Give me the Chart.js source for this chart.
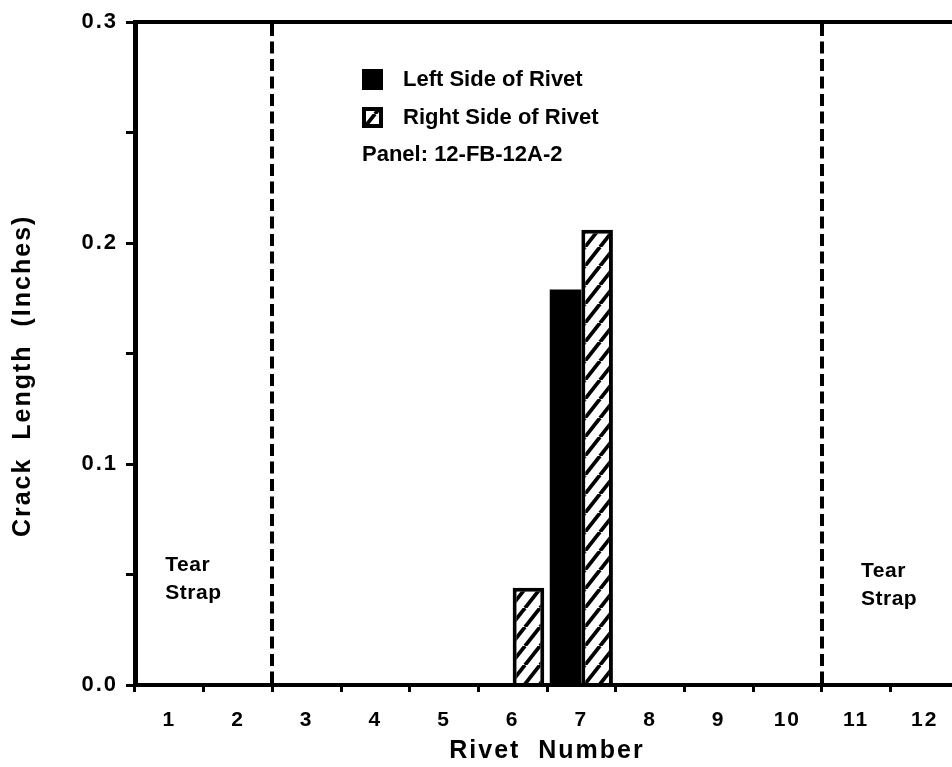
<!DOCTYPE html>
<html><head><meta charset="utf-8">
<script src="https://cdn.jsdelivr.net/npm/chart.js@4.4.1/dist/chart.umd.min.js"></script>
<style>
html,body{margin:0;padding:0;background:#fff;overflow:hidden;width:952px;height:767px;}
#wrap{position:absolute;left:0;top:0;width:968px;height:767px;}
canvas{display:block;}
</style></head><body>
<div id="wrap"><canvas id="c" width="968" height="767" style="width:968px;height:767px"></canvas></div>
<script>
// ---- data ----
const rivetNumbers = ['1','2','3','4','5','6','7','8','9','10','11','12'];
const leftSideOfRivet  = [0,0,0,0,0,0,0.179,0,0,0,0,0];
const rightSideOfRivet = [0,0,0,0,0,0.044,0.206,0,0,0,0,0];
const yTickLabels = ['0.0','0.1','0.2','0.3'];
const seriesLabels = ['Left Side of Rivet','Right Side of Rivet'];
const panelLabel = 'Panel: 12-FB-12A-2';
const tearStrapAfterRivet = ['2','10'];   // dashed tear-strap lines sit after these rivets
const tearStrapText = ['Tear','Strap'];
const xTitle = 'Rivet  Number';
const yTitle = 'Crack  Length  (Inches)';

const FONT = 'Liberation Sans, Arial, Helvetica, sans-serif';
const canvas = document.getElementById('c');
const mainCtx = canvas.getContext('2d');

function makeHatch(){
  const w = 15, h = 19;
  const t = document.createElement('canvas'); t.width = w; t.height = h;
  const g = t.getContext('2d');
  g.fillStyle = '#fff'; g.fillRect(0,0,w,h);
  g.strokeStyle = '#000'; g.lineWidth = 3.8;
  for (const dx of [-w, 0, w]) { g.beginPath(); g.moveTo(dx, h); g.lineTo(dx + w, 0); g.stroke(); }
  return mainCtx.createPattern(t, 'repeat');
}
const hatch = makeHatch();

const spacingPlugin = {
  id: 'spacing',
  beforeDraw(chart){ chart.ctx.letterSpacing = '2px'; },
  beforeDatasetsDraw(chart){ chart.ctx.letterSpacing = '0px'; }
};

const overlayPlugin = {
  id: 'overlay',
  afterDatasetsDraw(chart){
    const {ctx, chartArea: a, scales: {x, y}} = chart;
    ctx.save();
    ctx.letterSpacing = '0px';
    // top frame line
    ctx.strokeStyle = '#000'; ctx.lineWidth = 4;
    ctx.beginPath(); ctx.moveTo(a.left - 2, y.getPixelForValue(0.3)); ctx.lineTo(a.right, y.getPixelForValue(0.3)); ctx.stroke();
    // tear strap dashed lines
    ctx.lineWidth = 4; ctx.setLineDash([12, 5.5]);
    tearStrapAfterRivet.forEach(r => {
      const i = rivetNumbers.indexOf(r);
      const px = Math.round((x.getPixelForValue(i) + x.getPixelForValue(i + 1)) / 2);
      ctx.beginPath(); ctx.moveTo(px, y.getPixelForValue(0.3) + 2); ctx.lineTo(px, y.getPixelForValue(0)); ctx.stroke();
    });
    ctx.setLineDash([]);
    // legend
    ctx.fillStyle = '#000';
    ctx.font = 'bold 22px ' + FONT;
    ctx.textBaseline = 'middle'; ctx.textAlign = 'left';
    const lx = a.left + 227, ly = a.top + 47;
    ctx.fillRect(lx, ly, 21, 21);
    ctx.fillText(seriesLabels[0], lx + 41, ly + 11);
    ctx.fillStyle = hatch; ctx.fillRect(lx, ly + 38, 21, 21);
    ctx.strokeStyle = '#000'; ctx.lineWidth = 4; ctx.strokeRect(lx + 2, ly + 40, 17, 17);
    ctx.fillStyle = '#000';
    ctx.fillText(seriesLabels[1], lx + 41, ly + 49);
    ctx.fillText(panelLabel, lx, ly + 86);
    // tear strap labels
    ctx.font = 'bold 21px ' + FONT;
    ctx.letterSpacing = '0.5px';
    const tyTop = y.getPixelForValue(0.054);
    ctx.fillText(tearStrapText[0], x.getPixelForValue(0) - 4, tyTop);
    ctx.fillText(tearStrapText[1], x.getPixelForValue(0) - 4, tyTop + 28);
    ctx.fillText(tearStrapText[0], x.getPixelForValue(10) + 5, tyTop + 6);
    ctx.fillText(tearStrapText[1], x.getPixelForValue(10) + 5, tyTop + 34);
    ctx.restore();
  }
};

new Chart(mainCtx, {
  type: 'bar',
  data: {
    labels: rivetNumbers,
    datasets: [
      { label: seriesLabels[0], data: leftSideOfRivet, backgroundColor: '#000', borderColor: '#000', borderWidth: 0 },
      { label: seriesLabels[1], data: rightSideOfRivet, backgroundColor: hatch, borderColor: '#000',
        borderWidth: c => (c.raw > 0 ? 4 : 0), borderSkipped: 'bottom' }
    ]
  },
  options: {
    responsive: false, animation: false, devicePixelRatio: 1,
    layout: { padding: { top: 22, right: 9, left: 0, bottom: 0 } },
    plugins: { legend: { display: false }, tooltip: { enabled: false } },
    datasets: { bar: { categoryPercentage: 0.92, barPercentage: 1 } },
    scales: {
      x: {
        grid: { offset: true, drawOnChartArea: false, drawTicks: true, tickLength: 7, tickWidth: 3, tickColor: '#000' },
        border: { display: true, color: '#000', width: 4, z: 1 },
        ticks: { color: '#000', font: { family: FONT, weight: 'bold', size: 21 }, padding: 16, maxRotation: 0, autoSkip: false },
        title: { display: true, text: xTitle, color: '#000', font: { family: FONT, weight: 'bold', size: 25 }, padding: { top: 0, bottom: 1 } },
        afterFit: s => { s.height = 82; }
      },
      y: {
        min: 0, max: 0.3,
        ticks: {
          stepSize: 0.05, color: '#000', padding: 8,
          font: { family: FONT, weight: 'bold', size: 22 },
          callback: v => { const k = Math.round(v * 10); return Math.abs(v * 10 - k) < 1e-6 ? yTickLabels[k] : ''; }
        },
        grid: { drawOnChartArea: false, tickLength: 9, tickWidth: 3, tickColor: '#000' },
        border: { display: true, color: '#000', width: 5, z: 1 },
        title: { display: true, text: yTitle + '     ', color: '#000', font: { family: FONT, weight: 'bold', size: 25 }, padding: { top: 8, bottom: 0 } },
        afterFit: s => { s.width = 135; }
      }
    }
  },
  plugins: [spacingPlugin, overlayPlugin]
});
</script>
</body></html>
